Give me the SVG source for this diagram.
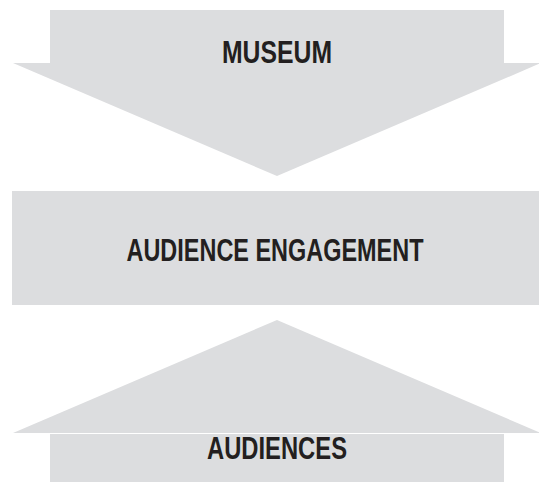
<svg xmlns="http://www.w3.org/2000/svg" width="539" height="482" viewBox="0 0 539 482">
  <style>
    .shape { fill: #dcdddf; }
    .label { font-family: "Liberation Sans Narrow", "Liberation Sans", Arial, sans-serif; font-weight: bold; font-size: 31px; fill: #231f20; text-anchor: middle; }
  </style>
  <rect width="539" height="482" fill="#ffffff"/>

  <!-- top block pointing down -->
  <g id="museum">
    <rect class="shape" x="50" y="10" width="454" height="53"/>
    <polygon class="shape" points="13,63 541,63 277,176"/>
    <text class="label" x="277" y="63" textLength="110" lengthAdjust="spacingAndGlyphs">MUSEUM</text>
  </g>

  <!-- central band -->
  <g id="engagement">
    <rect class="shape" x="12" y="191" width="527" height="114"/>
    <text class="label" x="275" y="261" textLength="297" lengthAdjust="spacingAndGlyphs">AUDIENCE ENGAGEMENT</text>
  </g>

  <!-- bottom block pointing up -->
  <g id="audiences">
    <polygon class="shape" points="277,320 541,433 13,433"/>
    <rect class="shape" x="50" y="434" width="454" height="48"/>
    <text class="label" x="277" y="459" textLength="140" lengthAdjust="spacingAndGlyphs">AUDIENCES</text>
  </g>

  <g id="connectors"/>
</svg>
